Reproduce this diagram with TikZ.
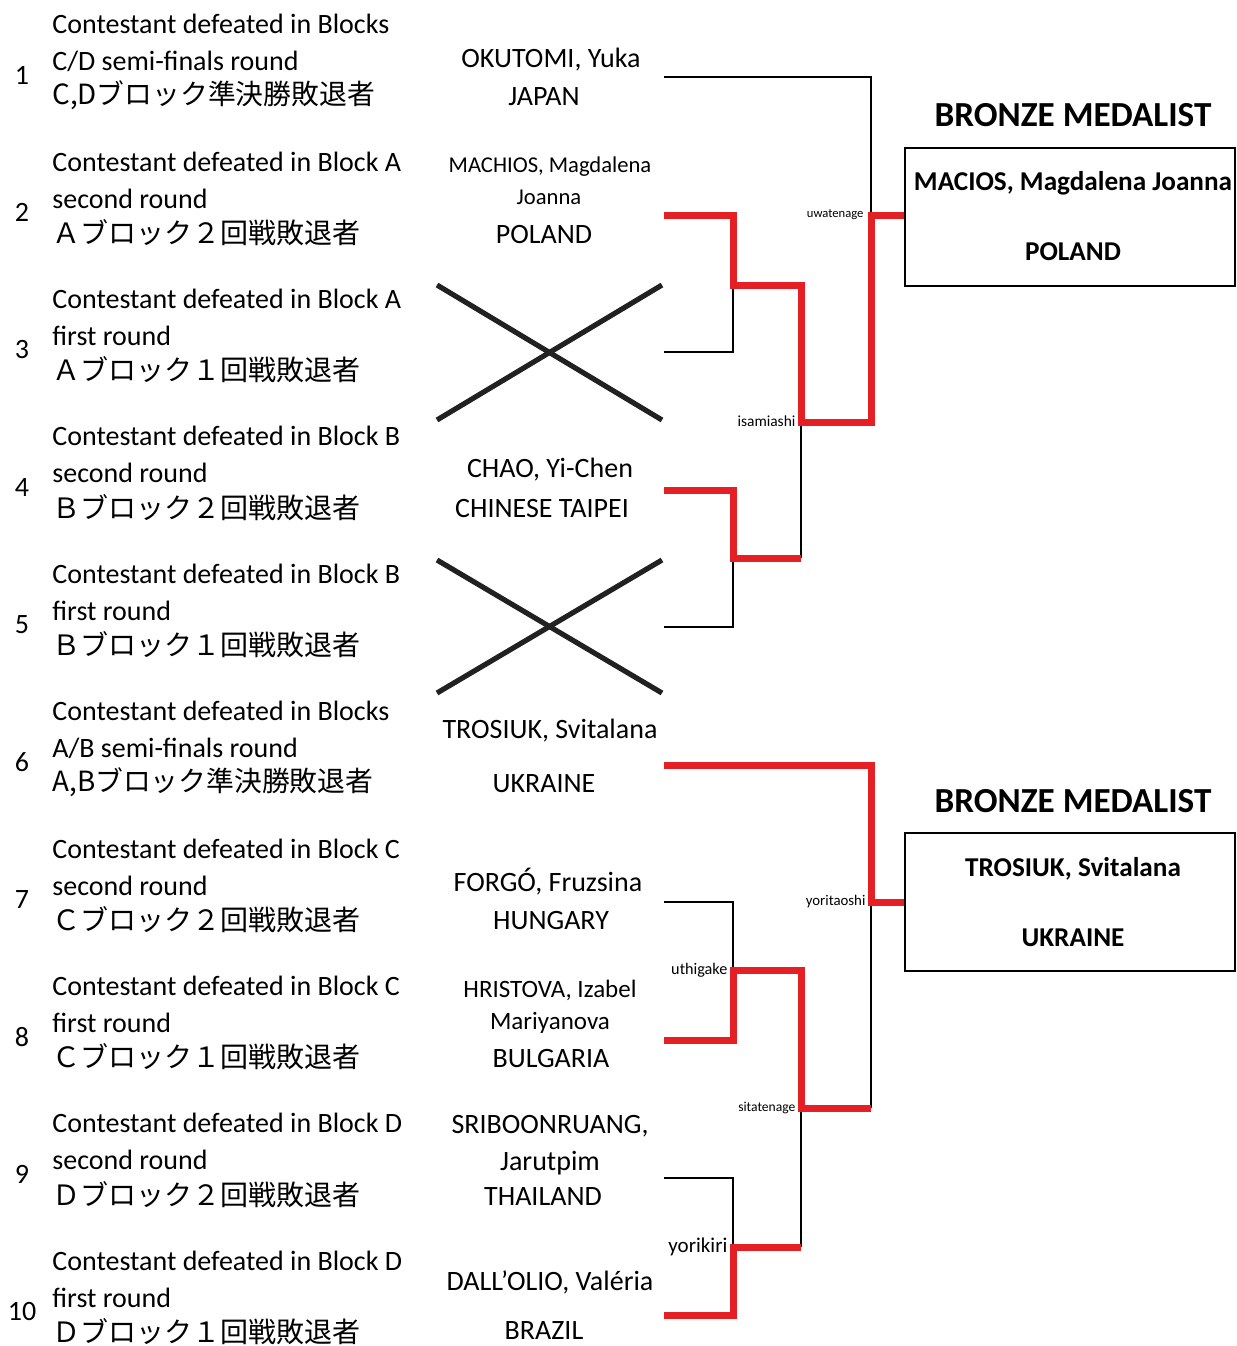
\documentclass[tikz,border=0pt]{standalone}
\usepackage{fontspec}
\setmainfont{Carlito}
\newfontfamily\jpfont{Noto Sans CJK JP}
\definecolor{winred}{RGB}{228,32,36}
\definecolor{crossgray}{gray}{0.13}
\usetikzlibrary{positioning}

\begin{document}
\begin{tikzpicture}[x=0.5pt, y=-0.5pt,
	rowtxt/.style={anchor=west, inner sep=0pt, font=\fontsize{14}{17}\selectfont},
	rownum/.style={inner sep=0pt, font=\fontsize{14}{17}\selectfont},
	nametxt/.style={inner sep=0pt, font=\fontsize{#1}{#1}\selectfont},
	win/.style={draw=winred, line width=3.5pt},
	lose/.style={draw=black, line width=1pt},
	cross/.style={draw=crossgray, line width=2.6pt},
	medalbox/.style={draw, line width=1pt, minimum width=165pt, minimum height=69pt, inner sep=0pt},
	medalhead/.style={inner sep=0pt, font=\bfseries\fontsize{17.6}{20}\selectfont},
	medaltxt/.style={inner sep=0pt, font=\bfseries\fontsize{13.6}{16}\selectfont},
	kimari/.style={anchor=east, inner sep=0.6pt, font=\fontsize{#1}{#1}\selectfont}]

\useasboundingbox (0,0) rectangle (1237,1346);

\def \rowtop{75}
\def \rowgap{137.4}

% left column: seeds
\foreach \n/\la/\lb/\lc/\js in {
	1/{Contestant defeated in Blocks}/{C/D semi-finals round}/{C,Dブロック準決勝敗退者}/13.9,
	2/{Contestant defeated in Block A}/{second round}/{Ａブロック２回戦敗退者}/14,
	3/{Contestant defeated in Block A}/{first round}/{Ａブロック１回戦敗退者}/14,
	4/{Contestant defeated in Block B}/{second round}/{Ｂブロック２回戦敗退者}/14,
	5/{Contestant defeated in Block B}/{first round}/{Ｂブロック１回戦敗退者}/14,
	6/{Contestant defeated in Blocks}/{A/B semi-finals round}/{A,Bブロック準決勝敗退者}/13.9,
	7/{Contestant defeated in Block C}/{second round}/{Ｃブロック２回戦敗退者}/14,
	8/{Contestant defeated in Block C}/{first round}/{Ｃブロック１回戦敗退者}/14,
	9/{Contestant defeated in Block D}/{second round}/{Ｄブロック２回戦敗退者}/14,
	10/{Contestant defeated in Block D}/{first round}/{Ｄブロック１回戦敗退者}/14} {
	\pgfmathsetmacro{\cy}{\rowtop + (\n-1)*\rowgap}
	\node[rownum] (num\n) at (22, \cy) {\n}; % seed number
	\node[rowtxt] (top\n) at (52, \cy-51) {\la};
	\node[rowtxt] (mid\n) at (52, \cy-14) {\lb};
	\node[rowtxt, font=\jpfont\fontsize{\js}{\js}\selectfont] (jp\n) at (52, \cy+20) {\lc};
}

% contestants
\node[nametxt=14]   (name1)  at (551, 60)   {OKUTOMI, Yuka};
\node[nametxt=14]   (nat1)   at (544, 97)   {JAPAN};
\node[nametxt=11.3] (name2)  at (550, 167)  {MACHIOS, Magdalena};
\node[nametxt=11.3] (name2b) at (549, 197)  {Joanna};
\node[nametxt=14]   (nat2)   at (544, 235)  {POLAND};
\node[nametxt=14]   (name4)  at (550, 470)  {CHAO, Yi-Chen};
\node[nametxt=14]   (nat4)   at (542, 509)  {CHINESE TAIPEI};
\node[nametxt=14]   (name6)  at (550, 731)  {TROSIUK, Svitalana};
\node[nametxt=14]   (nat6)   at (544, 784)  {UKRAINE};
\node[nametxt=14]   (name7)  at (548, 882)  {FORGÓ, Fruzsina};
\node[nametxt=14]   (nat7)   at (551, 921)  {HUNGARY};
\node[nametxt=12.5] (name8)  at (550, 990)  {HRISTOVA, Izabel};
\node[nametxt=12.5] (name8b) at (550, 1023) {Mariyanova};
\node[nametxt=14]   (nat8)   at (551, 1059) {BULGARIA};
\node[nametxt=14]   (name9)  at (550, 1126) {SRIBOONRUANG,};
\node[nametxt=14]   (name9b) at (550, 1163) {Jarutpim};
\node[nametxt=14]   (nat9)   at (543, 1197) {THAILAND};
\node[nametxt=14]   (name10) at (550, 1282) {DALL'OLIO, Valéria};
\node[nametxt=14]   (nat10)  at (544, 1331) {BRAZIL};

% empty seeds
\draw[cross] (437,285) -- (662,420);
\draw[cross] (437,420) -- (662,285);
\draw[cross] (437,560) -- (662,693);
\draw[cross] (437,693) -- (662,560);

% medalists
\node[medalhead] (head1) at (1073,115) {BRONZE MEDALIST};
\node[medalbox]  (box1)  at (1070,217) {};
\node[medaltxt]  (gold1) at (1073,183) {MACIOS, Magdalena Joanna};
\node[medaltxt]  (land1) at (1073,252) {POLAND};
\node[medalhead] (head2) at (1073,801) {BRONZE MEDALIST};
\node[medalbox]  (box2)  at (1070,902) {};
\node[medaltxt]  (gold2) at (1073,869) {TROSIUK, Svitalana};
\node[medaltxt]  (land2) at (1073,938) {UKRAINE};

% bracket points
\foreach \n/\y in {1/77, 2/215, 3/352, 4/490, 5/627, 6/765, 7/902, 8/1040, 9/1178, 10/1315}
	\coordinate (e\n) at (664,\y);
\coordinate (j23)  at (733,285);
\coordinate (j45)  at (733,558);
\coordinate (s45)  at (801,558);
\coordinate (j25)  at (801,422);
\coordinate (f1)   at (871,215);
\coordinate (j78)  at (733,970);
\coordinate (j910) at (733,1247);
\coordinate (t910) at (801,1247);
\coordinate (j710) at (801,1108);
\coordinate (s710) at (871,1108);
\coordinate (f2)   at (871,902);

% upper block
\draw[lose] (e1) -| (f1);
\draw[lose] (e3) -| (j23);
\draw[lose] (e5) -| (j45);
\draw[lose] (s45) -- (j25);
\draw[win]  (e4) -| (j45) -- (s45);
\draw[win]  (e2) -| (j23) -| (j25) -| (f1) -- (box1.west |- f1);

% lower block
\draw[lose] (e7) -| (j78);
\draw[lose] (e9) -| (j910);
\draw[lose] (t910) -- (j710);
\draw[lose] (s710) -- (f2);
\draw[win]  (e10) -| (j910) -- (t910);
\draw[win]  (e8) -| (j78) -| (j710) -- (s710);
\draw[win]  (e6) -| (f2) -- (box2.west |- f2);

% winning techniques
\node[kimari=6.3]  (k1) at (865,215)  {uwatenage};
\node[kimari=7.7]  (k2) at (797,421)  {isamiashi};
\node[kimari=7.4]  (k3) at (867,902)  {yoritaoshi};
\node[kimari=8.1]  (k4) at (729,970)  {uthigake};
\node[kimari=6.8]  (k5) at (797,1108) {sitatenage};
\node[kimari=10.5] (k6) at (729,1247) {yorikiri};

\end{tikzpicture}
\end{document}
